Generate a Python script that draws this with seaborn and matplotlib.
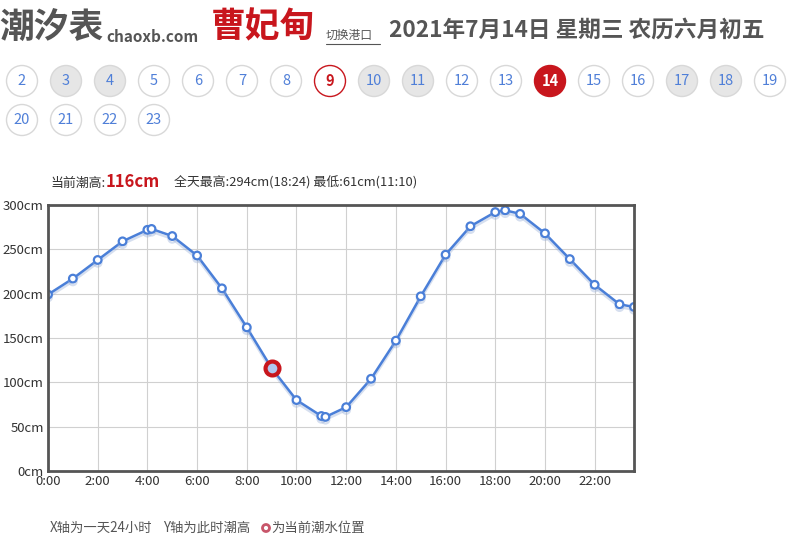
import numpy as np
import pandas as pd
import matplotlib
matplotlib.use("Agg")
import matplotlib.pyplot as plt
import matplotlib.patheffects as pe
from matplotlib.patches import Circle
import seaborn as sns

# tide readings for the day (time, height in cm)
times = ["0:00", "1:00", "2:00", "3:00", "4:00", "4:10", "5:00", "6:00", "7:00", "8:00",
         "9:00", "10:00", "11:00", "11:10", "12:00", "13:00", "14:00", "15:00", "16:00",
         "17:00", "18:00", "18:24", "19:00", "20:00", "21:00", "22:00", "23:00", "23:35"]
heights = [199, 217, 238, 259, 272, 273, 265, 243, 206, 162,
           116, 80, 62, 61, 72, 104, 147, 197, 244,
           276, 292, 294, 290, 268, 239, 210, 188, 185]
current_time = "9:00"
current_height = 116

y_ticks = [0, 50, 100, 150, 200, 250, 300]
x_ticks = list(range(0, 24, 2))
days = list(range(2, 24))
grey_days = [3, 4, 10, 11, 17, 18]
past_day = 9
today = 14

def to_hours(t):
    h, m = t.split(":")
    return int(h) + int(m) / 60

df = pd.DataFrame({"hour": [to_hours(t) for t in times], "height": heights})

sns.set_style("white")
plt.rcParams["font.family"] = ["Noto Sans CJK SC", "DejaVu Sans"]

W, H = 793, 538
fig = plt.figure(figsize=(W / 100, H / 100), dpi=100)

# background layer in pixel coordinates for header / footer
bg = fig.add_axes([0, 0, 1, 1])
bg.set_xlim(0, W)
bg.set_ylim(H, 0)
bg.axis("off")

grey = "#555555"
red = "#c8161d"
blue = "#4a7fd8"

bg.text(-1, 27, "潮汐表", fontsize=25, fontweight="bold", color=grey, va="center")
bg.text(106, 37, "chaoxb.com", fontsize=11, fontweight="bold", color=grey, va="center")
bg.text(211, 27, "曹妃甸", fontsize=25, fontweight="bold", color=red, va="center")
bg.text(326, 35, "切换港口", fontsize=8.5, color=grey, va="center")
bg.plot([326, 380], [44, 44], color=grey, lw=0.8)
bg.text(389, 30, "2021年7月14日 星期三 农历六月初五", fontsize=16.3, fontweight="bold",
        color=grey, va="center")

for i, d in enumerate(days):
    row, col = divmod(i, 18)
    cx, cy = 22 + col * 44, 81 + row * 39
    face, edge, tc, fw = "white", "#d8d8d8", "#4f7fd8", "normal"
    if d in grey_days:
        face = "#e6e6e6"
    if d == past_day:
        edge, tc, fw = red, red, "bold"
    if d == today:
        face, edge, tc, fw = red, red, "white", "bold"
    bg.add_patch(Circle((cx, cy), 15.5, facecolor=face, edgecolor=edge, lw=1))
    bg.text(cx, cy, str(d), fontsize=10.5, color=tc, fontweight=fw, ha="center", va="center")

bg.text(50, 183, "当前潮高:", fontsize=9.3, color="#333333", va="center")
bg.text(106, 182, f"{current_height}cm", fontsize=12, fontweight="bold", color=red, va="center")
bg.text(174, 183, "全天最高:294cm(18:24) 最低:61cm(11:10)", fontsize=9.3, color="#333333", va="center")

bg.text(50, 528, "X轴为一天24小时", fontsize=9.6, color=grey, va="center")
bg.text(163, 528, "Y轴为此时潮高", fontsize=9.6, color=grey, va="center")
bg.add_patch(Circle((266, 528), 3.5, facecolor="white", edgecolor="#c8566a", lw=2))
bg.text(271, 528, "为当前潮水位置", fontsize=9.6, color=grey, va="center")

# chart area
left, right, top, bottom = 48, 634, 205, 471
ax = fig.add_axes([left / W, 1 - bottom / H, (right - left) / W, (bottom - top) / H])
sns.lineplot(data=df, x="hour", y="height", ax=ax, color=blue, lw=1.8,
             marker="o", markersize=5.5, markerfacecolor="white",
             markeredgecolor=blue, markeredgewidth=1.6,
             path_effects=[pe.SimpleLineShadow(offset=(0, -2), shadow_color="#9ab0d8", alpha=0.4),
                           pe.Normal()])
ax.plot(to_hours(current_time), current_height, "o", markersize=10,
        markerfacecolor="#b0c8f0", markeredgecolor=red, markeredgewidth=3, zorder=5)

ax.set_xlim(0, df["hour"].max())
ax.set_ylim(0, 300)
ax.set_xticks(x_ticks)
ax.set_xticklabels([f"{h}:00" for h in x_ticks])
ax.set_yticks(y_ticks)
ax.set_yticklabels([f"{v}cm" for v in y_ticks])
ax.grid(True, color="#d0d0d0", lw=0.8)
ax.tick_params(axis="both", labelsize=9.5, colors="#333333", length=0, pad=3)
for s in ax.spines.values():
    s.set_color("#555555")
    s.set_linewidth(2)
ax.set_xlabel("")
ax.set_ylabel("")

fig.savefig("out.png", dpi=100)
